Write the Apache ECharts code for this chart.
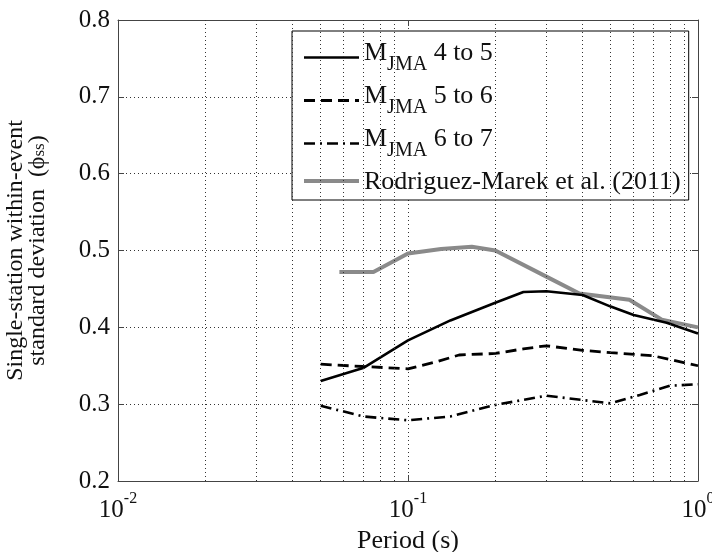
<!DOCTYPE html>
<html><head><meta charset="utf-8">
<script src="https://cdn.jsdelivr.net/npm/echarts@6/dist/echarts.min.js"></script>
<style>html,body{margin:0;padding:0;background:#fff}#c{width:712px;height:552px}</style>
</head><body><div id="c"></div>
<script>
// ---- data ----
const names = ['M_JMA 4 to 5', 'M_JMA 5 to 6', 'M_JMA 6 to 7', 'Rodriguez-Marek et al. (2011)'];
const p45 = [0.05, 0.07, 0.1, 0.14, 0.2, 0.25, 0.3, 0.4, 0.5, 0.6, 0.78, 1.0];
const v45 = [0.330, 0.347, 0.383, 0.409, 0.432, 0.446, 0.447, 0.442, 0.427, 0.416, 0.406, 0.392];
const p56 = [0.05, 0.07, 0.1, 0.125, 0.15, 0.2, 0.25, 0.3, 0.4, 0.5, 0.7, 1.0];
const v56 = [0.352, 0.349, 0.346, 0.355, 0.364, 0.366, 0.372, 0.376, 0.370, 0.367, 0.363, 0.350];
const p67 = [0.05, 0.07, 0.1, 0.14, 0.2, 0.3, 0.5, 0.63, 0.8, 1.0];
const v67 = [0.298, 0.284, 0.279, 0.284, 0.299, 0.311, 0.301, 0.312, 0.324, 0.326];
const pRM = [0.058, 0.076, 0.1, 0.13, 0.166, 0.2, 0.3, 0.39, 0.58, 0.75, 1.0];
const vRM = [0.472, 0.472, 0.496, 0.502, 0.505, 0.500, 0.466, 0.444, 0.436, 0.410, 0.400];
const minorX = [0.02,0.03,0.04,0.05,0.06,0.07,0.08,0.09,0.2,0.3,0.4,0.5,0.6,0.7,0.8,0.9];
const yTicks = {min: 0.2, max: 0.8, interval: 0.1};

const FONT = 'Liberation Serif';
const zip = (p, v) => p.map((x, i) => [x, v[i]]);
const gridDot = {color: '#333', width: 1, type: [1, 3]};

const chart = echarts.init(document.getElementById('c'), null, {renderer: 'canvas'});
chart.setOption({
  backgroundColor: '#fff',
  animation: false,
  grid: {left: 118, right: 14, top: 20, bottom: 71, containLabel: false, outerBoundsMode: 'none'},
  xAxis: [{
    type: 'log', min: 0.01, max: 1, logBase: 10,
    name: 'Period (s)', nameLocation: 'middle', nameGap: 47,
    nameTextStyle: {fontFamily: FONT, fontSize: 26, color: '#111'},
    axisLine: {lineStyle: {color: '#444', width: 1}},
    axisTick: {inside: true, length: 6, lineStyle: {color: '#444'}},
    axisLabel: {
      margin: 10,
      formatter: v => '{b|10}{s|' + Math.round(Math.log10(v)) + '}',
      rich: {
        b: {fontFamily: FONT, fontSize: 25, color: '#111', verticalAlign: 'bottom', lineHeight: 32},
        s: {fontFamily: FONT, fontSize: 16, color: '#111', verticalAlign: 'top', lineHeight: 16}
      }
    },
    splitLine: {show: true, lineStyle: gridDot}
  }, {
    type: 'log', min: 0.01, max: 1, logBase: 10, position: 'top',
    axisLine: {show: true, onZero: false, lineStyle: {color: '#444', width: 1}},
    axisTick: {show: true, inside: true, length: 6, lineStyle: {color: '#444'}},
    axisLabel: {show: false}, splitLine: {show: false}
  }],
  yAxis: [{
    type: 'value', min: yTicks.min, max: yTicks.max, interval: yTicks.interval,
    name: '{a|Single-station within-event}\n{a|standard deviation  (\u03d5}{s|ss}{a|)}',
    nameLocation: 'middle', nameGap: 70, nameRotate: 90,
    nameTextStyle: {fontFamily: FONT, fontSize: 24, color: '#111',
      rich: {
        a: {fontFamily: FONT, fontSize: 24, color: '#111', lineHeight: 22, verticalAlign: 'top'},
        s: {fontFamily: FONT, fontSize: 17, color: '#111', lineHeight: 22, verticalAlign: 'bottom', padding: [12, 0, 0, 0]}
      }},
    axisLine: {show: true, lineStyle: {color: '#444', width: 1}},
    axisTick: {show: true, inside: true, length: 6, lineStyle: {color: '#444'}},
    axisLabel: {margin: 8, fontFamily: FONT, fontSize: 25, color: '#111', formatter: v => v.toFixed(1)},
    splitLine: {show: true, lineStyle: gridDot}
  }, {
    type: 'value', min: yTicks.min, max: yTicks.max, interval: yTicks.interval, position: 'right',
    axisLine: {show: true, lineStyle: {color: '#444', width: 1}},
    axisTick: {show: true, inside: true, length: 6, lineStyle: {color: '#444'}},
    axisLabel: {show: false}, splitLine: {show: false}
  }],
  legend: {
    orient: 'vertical', left: 292, top: 31,
    data: names,
    itemWidth: 55, itemHeight: 14, itemGap: 8,
    padding: [9, 8, 5, 10],
    backgroundColor: '#fff', borderColor: '#000', borderWidth: 1,
    itemStyle: {opacity: 0},
    lineStyle: {width: 'inherit'},
    formatter: n => n.startsWith('M_JMA') ? '{m|M}{sub|JMA}{m|' + n.slice(5) + '}' : '{m|' + n + '}',
    textStyle: {
      fontFamily: FONT, fontSize: 26, color: '#111',
      rich: {
        m: {fontFamily: FONT, fontSize: 26, color: '#111', verticalAlign: 'top', lineHeight: 24},
        sub: {fontFamily: FONT, fontSize: 20, color: '#111', verticalAlign: 'bottom', padding: [15, 0, 0, 0]}
      }
    }
  },
  series: [
    {name: names[3], type: 'line', data: zip(pRM, vRM), symbol: 'none', z: 3,
      lineStyle: {color: '#8a8a8a', width: 4}, itemStyle: {color: '#8a8a8a'}},
    {name: names[0], type: 'line', data: zip(p45, v45), symbol: 'none', z: 4,
      lineStyle: {color: '#000', width: 2.6}, itemStyle: {color: '#000'}},
    {name: names[1], type: 'line', data: zip(p56, v56), symbol: 'none', z: 4,
      lineStyle: {color: '#000', width: 2.8, type: [11, 6]}, itemStyle: {color: '#000'}},
    {name: names[2], type: 'line', data: zip(p67, v67), symbol: 'none', z: 4,
      lineStyle: {color: '#000', width: 2.6, type: [11, 5, 2, 5]}, itemStyle: {color: '#000'}},
    {name: 'grid', type: 'line', data: [], silent: true, z: 1,
      markLine: {silent: true, symbol: 'none', label: {show: false}, animation: false,
        lineStyle: gridDot, data: minorX.map(x => ({xAxis: x}))}}
  ]
});
</script></body></html>
